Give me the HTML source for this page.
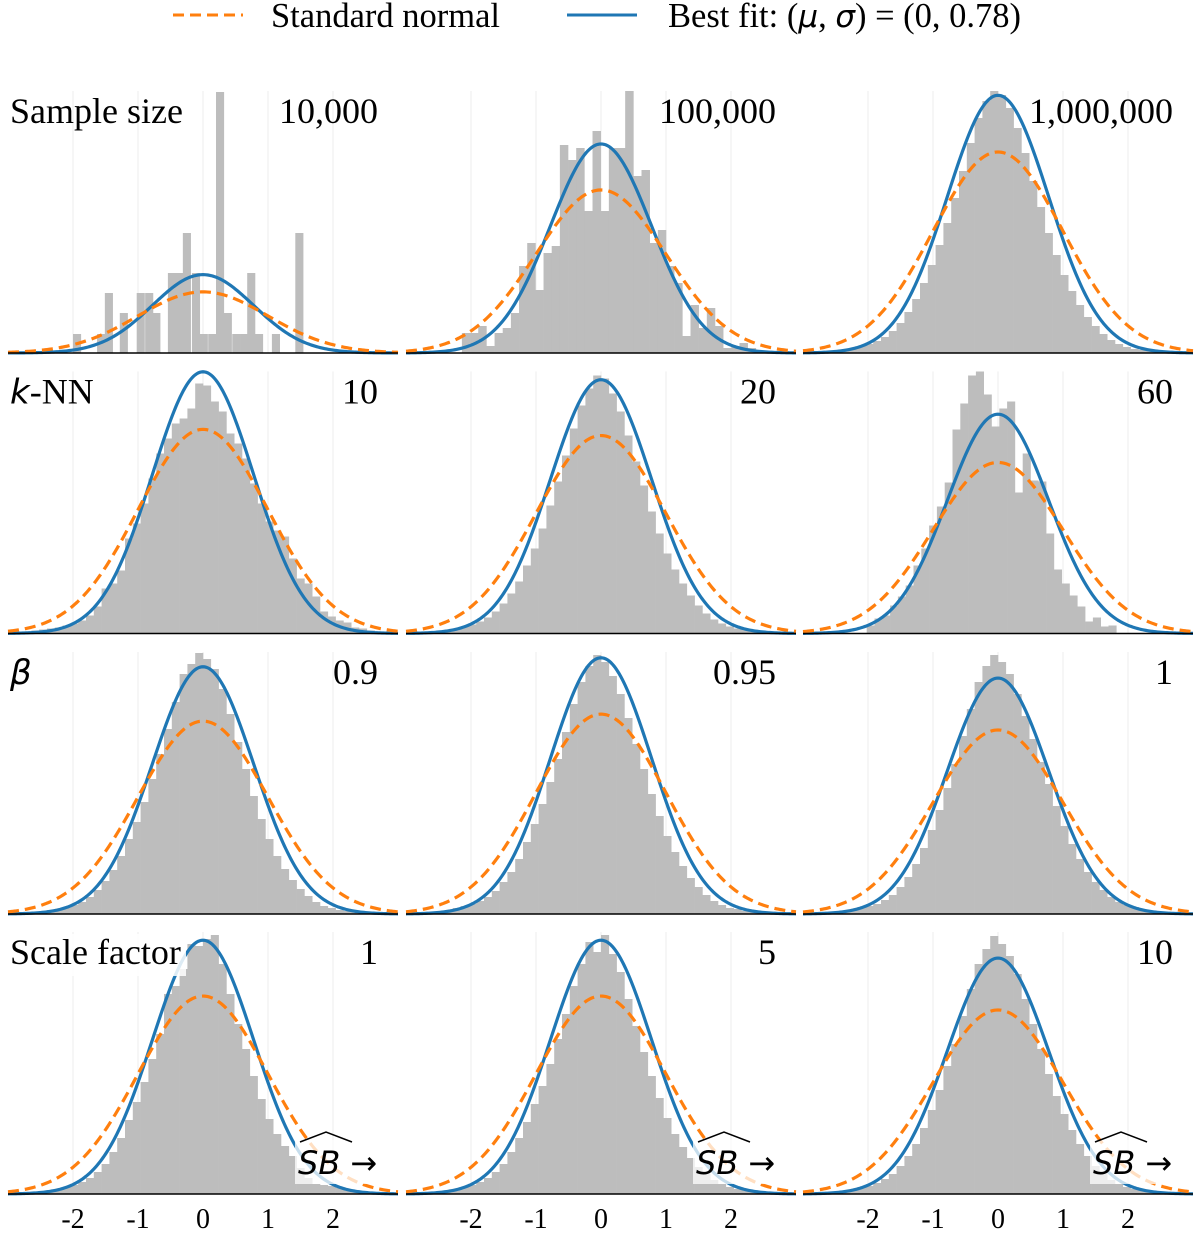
<!DOCTYPE html>
<html><head><meta charset="utf-8"><title>Histograms vs normal fits</title>
<style>
html,body{margin:0;padding:0;background:#fff;}
svg{display:block;font-family:"Liberation Serif",serif;}
</style></head>
<body>
<svg id="chart" width="1200" height="1234" viewBox="0 0 1200 1234" xmlns="http://www.w3.org/2000/svg">
  <g>
    <line x1="173" y1="15" x2="243" y2="15" stroke="#ff7f0e" stroke-width="3" stroke-dasharray="11,6"/>
    <text x="271" y="27" font-size="34.5">Standard normal</text>
    <line x1="567" y1="15" x2="637" y2="15" stroke="#1f77b4" stroke-width="3"/>
    <text x="668" y="27" font-size="34.5">Best fit: (<tspan font-family="DejaVu Sans,sans-serif" font-style="italic" font-size="31">μ</tspan>, <tspan font-family="DejaVu Sans,sans-serif" font-style="italic" font-size="31">σ</tspan>) = (0, 0.78)</text>
  </g>
  <g id="panels"></g>
</svg>
<script>
// ---- data ----
const rowLabels = ["Sample size", "k-NN", "β", "Scale factor"];
const panelValues = ["10,000","100,000","1,000,000","10","20","60","0.9","0.95","1","1","5","10"];
const tickValues = [-2,-1,0,1,2];
const tickLabels = ["-2","-1","0","1","2"];
const fitMu = 0, fitSigma = 0.78;
// y-axis upper limit (density units) per panel
const yTop = [1.71,0.641,0.520,0.512,0.528,0.611,0.542,0.523,0.568,0.528,0.528,0.568];
// histogram bin start and width per panel
const binStart = [null,-2.14,-2.76,-2.76,-2.76,-2.02,-2.76,-2.76,-2.76,-2.76,-2.76,-2.76];
const binWidth = [0.12,0.1256,0.12,0.12,0.12,0.12,0.12,0.12,0.12,0.12,0.12,0.12];
// panel 1 (sparse): bin left edges and counts
const p1Left = [-2.0,-1.63,-1.51,-1.28,-1.02,-0.89,-0.78,-0.54,-0.42,-0.31,-0.17,-0.05,0.08,0.2,0.32,0.45,0.57,0.68,0.8,1.06,1.42];
const p1Counts = [19,19,60,40,60,60,40,80,80,120,80,19,19,261,40,19,19,80,19,19,120];
const p2Counts = [20,20,27,7,20,25,40,87,110,63,100,107,208,193,205,142,222,142,205,205,262,177,183,110,123,87,70,17,48,25,45,27,5,7,10,5];
const p3Counts = [1,2,3,4,5,7,9,12,16,22,30,41,54,70,88,108,130,155,182,210,235,252,262,258,245,225,200,172,146,120,98,78,62,48,36,27,19,13,9,6,4,3,2,2,1,1];
const p4Counts = [2,3,4,5,6,8,10,13,18,27,45,50,63,95,110,130,155,180,195,210,215,225,250,248,232,222,200,190,175,150,130,112,103,97,75,55,50,37,22,17,13,11,6,5,3,2];
const p5Counts = [1,2,3,4,5,7,9,12,16,22,30,40,52,68,85,105,128,152,178,205,228,245,258,255,240,222,198,172,148,122,100,80,64,50,38,28,20,14,10,7,5,4,3,2,1,1];
const p6Counts = [8,15,18,28,37,48,68,85,108,127,151,204,230,258,262,239,207,225,232,141,180,153,152,100,64,50,38,27,12,16,7,8];
const p7Counts = [1,2,3,4,5,7,9,12,17,24,33,44,58,75,92,112,135,160,185,212,240,250,261,255,245,225,200,172,145,118,95,75,58,45,34,25,18,12,8,6,4,3,2,1,1,1];
const p8Counts = [1,2,3,4,6,8,10,13,17,23,32,42,55,72,90,110,132,155,182,210,232,248,259,252,238,220,196,170,145,120,98,78,62,48,36,27,19,13,9,6,5,3,2,2,1,1];
const p9Counts = [1,2,2,3,4,6,8,10,14,19,27,37,50,66,84,104,126,150,178,205,232,248,259,252,240,220,198,175,152,130,108,88,70,55,42,32,24,17,12,9,7,5,3,2,1,1];
const p10Counts = [1,2,3,4,5,7,9,12,16,22,30,42,56,74,92,112,135,160,200,208,225,250,248,255,259,230,200,170,145,118,95,75,60,48,38,26,16,10,9,8,6,5,4,3,2,1];
const p11Counts = [1,2,2,3,5,7,9,12,16,22,30,42,56,72,90,108,130,155,180,208,230,252,242,259,240,222,195,168,142,118,96,76,60,47,36,27,20,14,10,7,5,4,3,2,1,1];
const p12Counts = [1,2,2,3,5,6,8,11,15,20,28,38,50,66,84,104,128,150,178,205,230,245,258,250,238,220,195,170,145,120,98,80,64,50,38,28,20,14,10,7,5,4,3,2,1,1];
const countsList = [p1Counts,p2Counts,p3Counts,p4Counts,p5Counts,p6Counts,p7Counts,p8Counts,p9Counts,p10Counts,p11Counts,p12Counts];
const countMax = 262;

// ---- layout ----
const NS = "http://www.w3.org/2000/svg";
const colLeft = [8, 406, 803];
const rowBottom = [353, 633.5, 914, 1194];
const plotW = 390, plotH = 262;
const root = document.getElementById('panels');

function mk(tag, attrs, parent){
  const e = document.createElementNS(NS, tag);
  for (const k in attrs) e.setAttribute(k, attrs[k]);
  parent.appendChild(e);
  return e;
}
function pdf(x, m, s){ return Math.exp(-((x-m)*(x-m))/(2*s*s))/(s*Math.sqrt(2*Math.PI)); }

for (let p = 0; p < 12; p++) {
  const r = Math.floor(p/3), c = p % 3;
  const L = colLeft[c], B = rowBottom[r], T = B - plotH;
  const xs = v => L + (v + 3) / 6 * plotW;
  const yd = v => B - v / yTop[p] * plotH;
  const yc = v => B - v / countMax * plotH;

  const g = mk('g', {}, root);
  
  

  tickValues.forEach((t,i) => {
    const gl = mk('line', {x1: xs(t), x2: xs(t), y1: T, y2: B, stroke: '#ececec', 'stroke-width': 1}, g);
    
    
  });

  const hist = mk('g', {fill: '#bdbdbd'}, g);
  
  
  const counts = countsList[p];
  counts.forEach((v, i) => {
    const left = (p === 0) ? p1Left[i] : binStart[p] + i * binWidth[p];
    const x1 = xs(left), x2 = xs(left + binWidth[p]);
    const bar = mk('rect', {x: x1, y: yc(v), width: x2 - x1 + 0.3, height: B - yc(v)}, hist);
    
    
  });

  let dO = '', dB = '';
  for (let k = 0; k <= 240; k++) {
    const x = -3 + 6 * k / 240;
    dO += (k ? 'L' : 'M') + xs(x).toFixed(2) + ',' + yd(pdf(x, 0, 1)).toFixed(2);
    dB += (k ? 'L' : 'M') + xs(x).toFixed(2) + ',' + yd(pdf(x, fitMu, fitSigma)).toFixed(2);
  }
  const cB = mk('path', {d: dB, fill: 'none', stroke: '#1f77b4', 'stroke-width': 3.2}, g);
  
  
  const cO = mk('path', {d: dO, fill: 'none', stroke: '#ff7f0e', 'stroke-width': 3.2, 'stroke-dasharray': '11,6'}, g);
  
  

  const ax = mk('line', {x1: L, x2: L + plotW, y1: B, y2: B, stroke: '#000', 'stroke-width': 1.5}, g);
  
  

  if (c === 0) {
    const lab = rowLabels[r];
    if (r === 3) {
      const bg = mk('rect', {x: L, y: T + 2, width: 178, height: 42, fill: '#fff', 'fill-opacity': 0.85}, g);
      
      
    }
    const t = mk('text', {x: L + 2, y: B - 230, 'font-size': 36}, g);
    
    
    if (r === 1) {
      const ts = mk('tspan', {'font-family': 'DejaVu Sans,sans-serif', 'font-style': 'italic', 'font-size': 34}, t);
      ts.textContent = 'k';
      const ts2 = mk('tspan', {}, t);
      ts2.textContent = '-NN';
    } else if (r === 2) {
      const ts = mk('tspan', {'font-family': 'DejaVu Sans,sans-serif', 'font-style': 'italic', 'font-size': 34}, t);
      ts.textContent = 'β';
    } else {
      t.textContent = lab;
    }
  }
  const pv = mk('text', {x: L + 370, y: B - 230, 'font-size': 36, 'text-anchor': 'end'}, g);
  
  
  pv.textContent = panelValues[p];

  if (r === 3) {
    tickValues.forEach((t, i) => {
      const tl = mk('text', {x: xs(t), y: B + 34, 'font-size': 28, 'text-anchor': 'middle'}, g);
      
      
      tl.textContent = tickLabels[i];
    });
    const sb = mk('g', {}, g);
    
    
    mk('rect', {x: L + 287, y: B - 54, width: 96, height: 44, fill: '#fff', 'fill-opacity': 0.75}, sb);
    const st = mk('text', {x: L + 290, y: B - 20, 'font-size': 32, 'font-family': 'DejaVu Sans,sans-serif'}, sb);
    const s1 = mk('tspan', {'font-style': 'italic'}, st);
    s1.textContent = 'SB';
    const s2 = mk('tspan', {dx: 10}, st);
    s2.textContent = '→';
    mk('path', {d: 'M' + (L + 292) + ',' + (B - 52) + ' L' + (L + 318) + ',' + (B - 62) + ' L' + (L + 344) + ',' + (B - 52), fill: 'none', stroke: '#000', 'stroke-width': 1.5}, sb);
  }
}
</script>
</body></html>
